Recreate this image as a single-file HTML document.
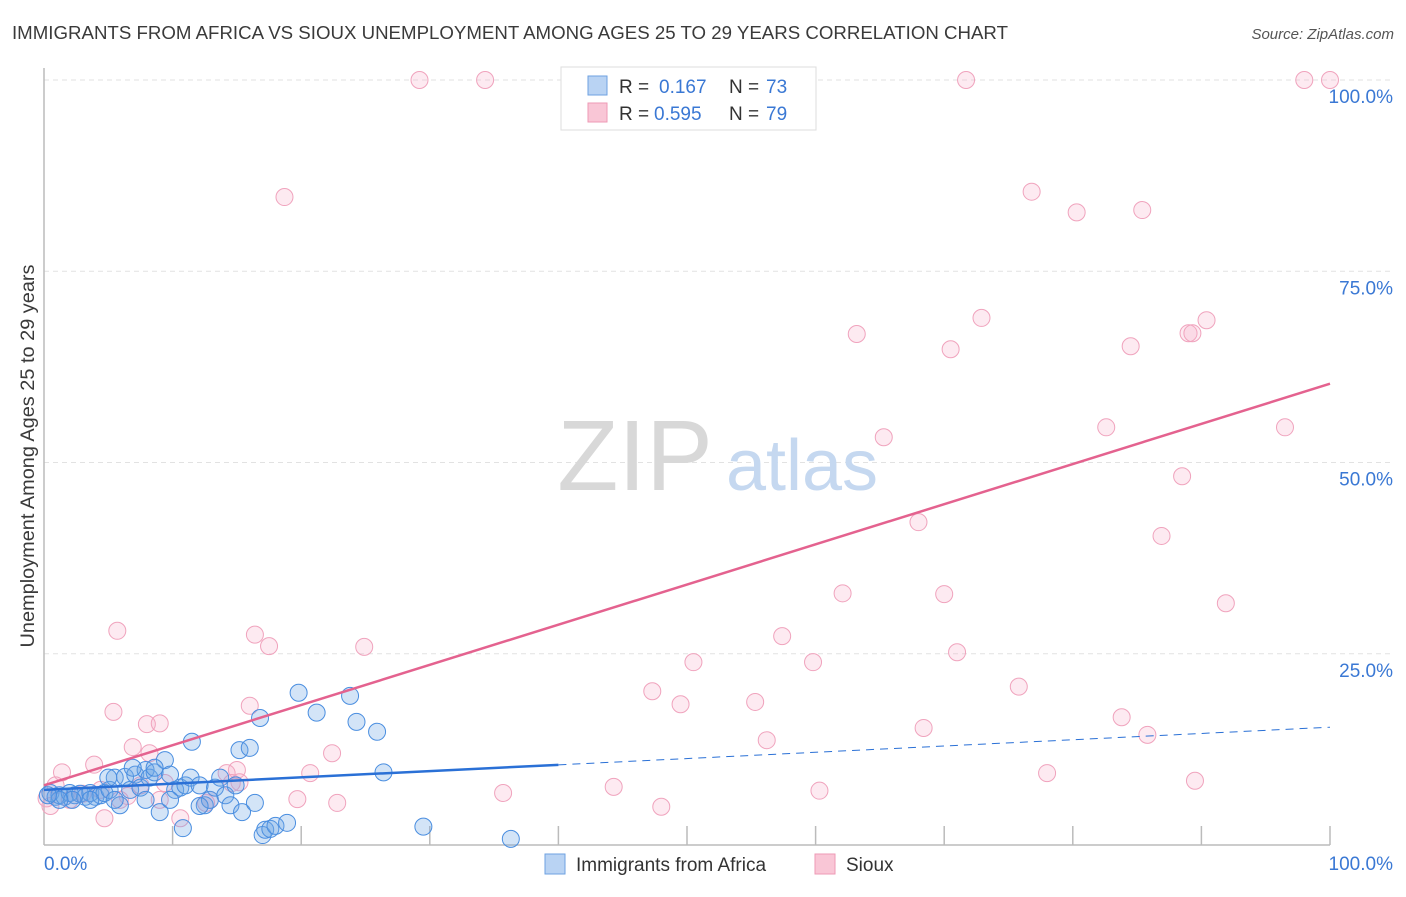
<!DOCTYPE html>
<html><head><meta charset="utf-8"><style>
body{margin:0;background:#fff;font-family:"Liberation Sans",sans-serif;}
svg text{font-family:"Liberation Sans",sans-serif;}
</style></head><body>
<svg id="chart" width="1406" height="892" viewBox="0 0 1406 892">
<text x="12" y="39" font-size="18" fill="#3a3a3a" textLength="996" lengthAdjust="spacingAndGlyphs">IMMIGRANTS FROM AFRICA VS SIOUX UNEMPLOYMENT AMONG AGES 25 TO 29 YEARS CORRELATION CHART</text>
<text x="1394" y="39" font-size="15" fill="#555" font-style="italic" text-anchor="end">Source: ZipAtlas.com</text>
<text x="34" y="456" font-size="19" fill="#3a3a3a" text-anchor="middle" textLength="383" lengthAdjust="spacingAndGlyphs" transform="rotate(-90 34 456)">Unemployment Among Ages 25 to 29 years</text>
<g id="grid"></g>
<g>
<text x="635" y="490" font-size="100" font-family="Liberation Serif,serif" fill="#d8d8d8" text-anchor="middle">ZIP</text>
<text x="802" y="490" font-size="72" fill="#c5d8f0" text-anchor="middle">atlas</text>
</g>
<g id="axes"></g>
<g id="pts"></g>
<g id="lines"></g>
<g>
<rect x="561" y="67" width="255" height="63" fill="#fff" stroke="#ddd"/>
<rect x="588" y="76" width="19" height="19" fill="#b9d3f3" stroke="#6ea1e2"/>
<rect x="588" y="103" width="19" height="19" fill="#f9c6d6" stroke="#ee9ab5"/>
<text y="93" font-size="19" fill="#333"><tspan x="619">R =</tspan><tspan x="659" fill="#3a78d4">0.167</tspan><tspan x="729">N =</tspan><tspan x="766" fill="#3a78d4">73</tspan></text>
<text y="120" font-size="19" fill="#333"><tspan x="619">R =</tspan><tspan x="654" fill="#3a78d4">0.595</tspan><tspan x="729">N =</tspan><tspan x="766" fill="#3a78d4">79</tspan></text>
</g>
<g>
<rect x="545" y="854" width="20" height="20" fill="#b9d3f3" stroke="#6ea1e2"/>
<text x="576" y="871" font-size="19" fill="#333">Immigrants from Africa</text>
<rect x="815" y="854" width="20" height="20" fill="#f9c6d6" stroke="#ee9ab5"/>
<text x="846" y="871" font-size="19" fill="#333">Sioux</text>
</g>
</svg>
<script>
const yTicks=[25,50,75,100];
const yTickLabels=["25.0%","50.0%","75.0%","100.0%"];
const xTicks=[0,10,20,30,40,50,60,70,80,90,100];
const blueX=[0.5,0.9,1.2,1.6,2.0,2.4,2.8,3.2,3.6,4.0,4.4,4.7,5.1,5.5,5.9,6.3,6.7,7.1,7.5,7.9,8.2,8.6,9.0,9.4,9.8,10.2,10.6,11.0,11.4,11.5,12.1,12.5,12.9,13.3,13.7,14.1,14.5,14.9,15.2,15.4,16.0,16.4,16.8,17.0,17.2,17.6,18.0,18.9,19.8,21.2,23.8,24.3,25.9,26.4,29.5,36.3,10.8,12.1,9.8,7.9,5.5,3.6,2.2,1.2,0.3,5.0,6.9,8.6];
const blueY=[6.8,6.3,6.5,6.3,6.8,6.5,6.7,6.3,6.8,6.3,6.5,6.8,7.2,8.8,5.2,8.9,7.2,9.2,7.5,9.8,8.8,9.5,4.3,11.1,9.2,7.2,7.5,7.8,8.8,13.5,7.8,5.2,5.9,7.5,8.8,6.5,5.2,7.8,12.4,4.3,12.7,5.5,16.6,1.3,2.0,2.1,2.5,2.9,19.9,17.3,19.5,16.1,14.8,9.5,2.4,0.8,2.2,5.1,5.9,5.9,5.9,5.9,5.9,5.9,6.5,8.8,10.1,10.1];
const pinkX=[29.2,34.3,71.7,98.0,100,18.7,76.8,80.3,85.4,63.2,72.9,70.5,84.5,89.0,89.3,90.4,65.3,82.6,96.5,88.5,68.0,86.9,62.1,70.0,91.9,5.7,16.4,17.5,24.9,57.4,71.0,50.5,59.8,47.3,49.5,75.8,55.3,16.0,5.4,8.0,9.0,68.4,83.8,85.8,56.2,6.9,8.2,22.4,20.7,3.9,1.4,15.0,14.2,15.2,78.0,89.5,35.7,44.3,60.3,48.0,19.7,22.8,10.6,4.7,3.0,2.0,0.5,0.9,9.0,12.6,12.9,6.5,4.4,7.5,9.4,14.6,0.2,5.9];
const pinkY=[100,100,100,100,100,84.7,85.4,82.7,83.0,66.8,68.9,64.8,65.2,66.9,66.9,68.6,53.3,54.6,54.6,48.2,42.2,40.4,32.9,32.8,31.6,28.0,27.5,26.0,25.9,27.3,25.2,23.9,23.9,20.1,18.4,20.7,18.7,18.2,17.4,15.8,15.9,15.3,16.7,14.4,13.7,12.8,12.0,12.0,9.4,10.5,9.5,9.8,9.4,8.2,9.4,8.4,6.8,7.6,7.1,5.0,6.0,5.5,3.5,3.5,6.7,5.9,5.1,7.8,5.9,5.5,5.9,6.4,7.2,7.8,8.1,8.1,6.1,5.9];
const blueTrend=[7.2,15.4];
const pinkTrend=[7.8,60.3];
const NS="http://www.w3.org/2000/svg";
const X=v=>44+v*12.86, Y=v=>845-v*7.65;
function mk(tag,attrs,parent){const e=document.createElementNS(NS,tag);for(const k in attrs)e.setAttribute(k,attrs[k]);document.getElementById(parent).appendChild(e);return e;}
yTicks.forEach((t,i)=>{
 const l=mk('line',{x1:44,x2:1394,y1:Y(t),y2:Y(t),stroke:'#e2e2e2','stroke-dasharray':'5,4'},'grid');
 
 
 const tx=mk('text',{x:1393,y:Y(t)+23,'font-size':19,fill:'#3a78d4','text-anchor':'end'},'grid');
 tx.textContent=yTickLabels[i];
 
 
});
const ax=mk('line',{x1:44,x2:44,y1:68,y2:845,stroke:'#bbb','stroke-width':1.5},'axes');


const bx=mk('line',{x1:44,x2:1330,y1:845,y2:845,stroke:'#bbb','stroke-width':1.5},'axes');


xTicks.forEach(t=>{if(t===0)return;
 const l=mk('line',{x1:X(t),x2:X(t),y1:826,y2:845,stroke:'#bbb','stroke-width':1.5},'axes');
 
 
});
const xl0=mk('text',{x:44,y:870,'font-size':19,fill:'#3a78d4'},'axes');xl0.textContent='0.0%';


const xl1=mk('text',{x:1393,y:870,'font-size':19,fill:'#3a78d4','text-anchor':'end'},'axes');xl1.textContent='100.0%';


pinkX.forEach((v,i)=>{const c=mk('circle',{cx:X(v),cy:Y(pinkY[i]),r:8.5,fill:'rgba(246,170,198,0.25)',stroke:'#f0a3bd','stroke-width':1},'pts');
 
 });
blueX.forEach((v,i)=>{const c=mk('circle',{cx:X(v),cy:Y(blueY[i]),r:8.5,fill:'rgba(110,165,230,0.3)',stroke:'#4a8ee0','stroke-width':1},'pts');
 
 });
const bt=v=>blueTrend[0]+(blueTrend[1]-blueTrend[0])*v/100;
const l1=mk('line',{x1:X(0),y1:Y(bt(0)),x2:X(40),y2:Y(bt(40)),stroke:'#2a70d6','stroke-width':2.5},'lines');


const l2=mk('line',{x1:X(40),y1:Y(bt(40)),x2:X(100),y2:Y(bt(100)),stroke:'#2a70d6','stroke-width':1,'stroke-dasharray':'8,6'},'lines');


const l3=mk('line',{x1:X(0),y1:Y(pinkTrend[0]),x2:X(100),y2:Y(pinkTrend[1]),stroke:'#e4628f','stroke-width':2.5},'lines');


</script>
</body></html>
